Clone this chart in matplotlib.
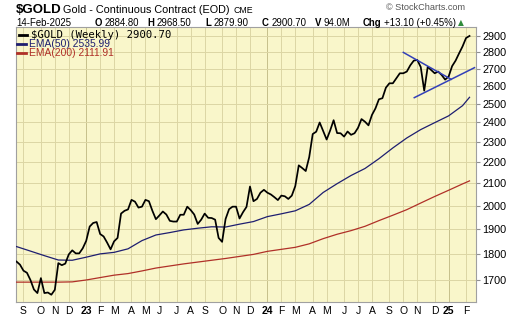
import pandas as pd
import matplotlib
matplotlib.use('Agg')
import matplotlib.pyplot as plt
from matplotlib.lines import Line2D
from matplotlib.ticker import FixedLocator, NullLocator

plt.rcParams['font.family'] = ['Liberation Sans', 'DejaVu Sans']

# weekly closes, 19-Aug-2022 .. 14-Feb-2025
dates = pd.date_range('2022-08-19', '2025-02-14', freq='W-FRI')
close = [1770, 1758, 1735, 1727, 1700, 1665, 1652, 1707, 1652, 1654,
         1646, 1664, 1764, 1756, 1762, 1798, 1814, 1802, 1802, 1822,
         1852, 1911, 1926, 1930, 1880, 1870, 1845, 1818, 1850, 1864,
         1966, 1978, 1984, 2026, 2018, 1992, 1996, 2026, 2020, 1978,
         1942, 1958, 1975, 1962, 1935, 1932, 1932, 1961, 1961, 1996,
         1981, 1962, 1922, 1940, 1966, 1948, 1947, 1940, 1864, 1848,
         1943, 1985, 1996, 1996, 1945, 1972, 1995, 2086, 2020, 2030,
         2058, 2071, 2058, 2050, 2038, 2025, 2045, 2042, 2030, 2045,
         2088, 2185, 2172, 2158, 2225, 2340, 2352, 2400, 2355, 2312,
         2358, 2412, 2345, 2344, 2327, 2353, 2336, 2344, 2372, 2418,
         2404, 2385, 2440, 2475, 2525, 2531, 2590, 2615, 2615, 2644,
         2673, 2673, 2683, 2720, 2748, 2752, 2710, 2573, 2711, 2692,
         2673, 2683, 2663, 2636, 2654, 2715, 2748, 2792, 2835, 2887.6,
         2900.7]

# moving averages, sampled every 4 weeks
ema_idx = list(range(0, 129, 4)) + [130]
ema50 = [1829, 1811, 1793, 1776, 1775, 1787, 1800, 1806, 1820, 1853,
         1876, 1886, 1897, 1904, 1910, 1909, 1921, 1932, 1953, 1965,
         1978, 2006, 2059, 2099, 2137, 2170, 2217, 2270, 2320, 2363,
         2399, 2435, 2490, 2535.99]
ema200 = [1692, 1692, 1692, 1692, 1693, 1700, 1709, 1718, 1724, 1734,
          1745, 1753, 1761, 1768, 1775, 1782, 1790, 1798, 1810, 1818,
          1826, 1840, 1861, 1879, 1894, 1912, 1936, 1959, 1983, 2012,
          2041, 2069, 2098, 2111.91]

# triangle trendlines
upper_dates = pd.to_datetime(['2024-10-04', '2025-01-08'])
upper_vals = [2798, 2638]
lower_dates = pd.to_datetime(['2024-10-26', '2025-02-24'])
lower_vals = [2534, 2706]

yticks = [1700, 1800, 1900, 2000, 2100, 2200, 2300, 2400, 2500, 2600, 2700, 2800, 2900]

# header quote line: label, value, x position of the label
quote = [('O', '2884.80', 95), ('H', '2968.50', 147), ('L', '2879.90', 205),
         ('C', '2900.70', 262), ('V', '94.0M', 315), ('Chg', '+13.10 (+0.45%)', 363)]

W, H = 520, 318
def px(x, y):
    return x / W, 1 - y / H

fig = plt.figure(figsize=(W / 100, H / 100), dpi=100)
fig.patch.set_facecolor('white')
ax = fig.add_axes([16 / W, 1 - 302 / H, 460 / W, 275 / H])
ax.set_facecolor('#F9F6CA')

ema_dates = dates[ema_idx]
ax.plot(ema_dates, ema200, color='#B03028', lw=0.9, zorder=3)
ax.plot(ema_dates, ema50, color='#1E1E70', lw=0.9, zorder=3)
ax.plot(dates, close, color='black', lw=1.25, zorder=4)
ax.plot(upper_dates, upper_vals, color='#3340B8', lw=1.1, zorder=5)
ax.plot(lower_dates, lower_vals, color='#3340B8', lw=1.1, zorder=5)

ax.set_yscale('log')
ax.set_ylim(1620, 2958)
ax.set_xlim(pd.Timestamp('2022-08-18'), pd.Timestamp('2025-02-27'))
ax.yaxis.set_major_locator(FixedLocator(yticks))
ax.yaxis.set_minor_locator(NullLocator())
ax.set_yticklabels([str(t) for t in yticks])
ax.yaxis.tick_right()

# month ticks at first weekly bar of each month
s = pd.Series(dates)
firsts = s[s.dt.day <= 7]
xlabels = []
for d in firsts:
    if d.month == 1:
        xlabels.append('%02d' % (d.year % 100))
    else:
        xlabels.append('JFMAMJJASOND'[d.month - 1])
ax.set_xticks(list(firsts))
ax.set_xticklabels(xlabels)
for lab, d in zip(ax.get_xticklabels(), firsts):
    if d.month == 1:
        lab.set_fontweight('bold')

ax.tick_params(axis='x', length=0, pad=3, labelsize=7.5)
ax.tick_params(axis='y', length=3, pad=1.5, labelsize=7.8, color='#909090')
ax.grid(True, color='#DCD6A4', lw=0.7, zorder=0)
for tk, d in zip(ax.xaxis.get_major_ticks(), firsts):
    if d.month == 1:
        tk.gridline.set_color('#C6C08C')
for sp in ax.spines.values():
    sp.set_color('#A0A0A0')
    sp.set_linewidth(0.8)

renderer = fig.canvas.get_renderer()

# header
fig.text(*px(16, 10), '$GOLD', fontsize=9.5, fontweight='bold', va='center')
title = fig.text(*px(63, 10), 'Gold - Continuous Contract (EOD)', fontsize=7.8, va='center')
tx = 63 + title.get_window_extent(renderer).width + 4
fig.text(*px(tx, 10.5), 'CME', fontsize=6.3, va='center')
fig.text(*px(386, 8), '\u00a9 StockCharts.com', fontsize=6.6, color='#555555', va='center')

fig.text(*px(16, 23), '14-Feb-2025', fontsize=6.9, va='center')
for lab, val, x in quote:
    t = fig.text(*px(x, 23), lab, fontsize=6.9, fontweight='bold', va='center')
    x2 = x + t.get_window_extent(renderer).width + 2.5
    t2 = fig.text(*px(x2, 23), val, fontsize=6.9, va='center')
    end = x2 + t2.get_window_extent(renderer).width
fig.text(*px(end + 2, 22.5), '\u25b2', fontsize=5.5, color='#2E8B3A', va='center',
         family='DejaVu Sans')

# legend
fig.add_artist(Line2D([19 / W, 27 / W], [1 - 35 / H, 1 - 35 / H], color='black', lw=2,
                      transform=fig.transFigure))
fig.text(*px(31, 35), '$GOLD (Weekly) 2900.70', fontsize=7.7, family='DejaVu Sans Mono',
         va='center')
fig.add_artist(Line2D([17 / W, 26 / W], [1 - 44 / H, 1 - 44 / H], color='#1E1E70', lw=2,
                      transform=fig.transFigure))
fig.text(*px(29, 44), 'EMA(50) 2535.99', fontsize=7.4, color='#1E1E70', va='center')
fig.add_artist(Line2D([17 / W, 26 / W], [1 - 53 / H, 1 - 53 / H], color='#B03028', lw=2,
                      transform=fig.transFigure))
fig.text(*px(29, 53), 'EMA(200) 2111.91', fontsize=7.4, color='#B03028', va='center')

fig.savefig('out.png', dpi=100)
